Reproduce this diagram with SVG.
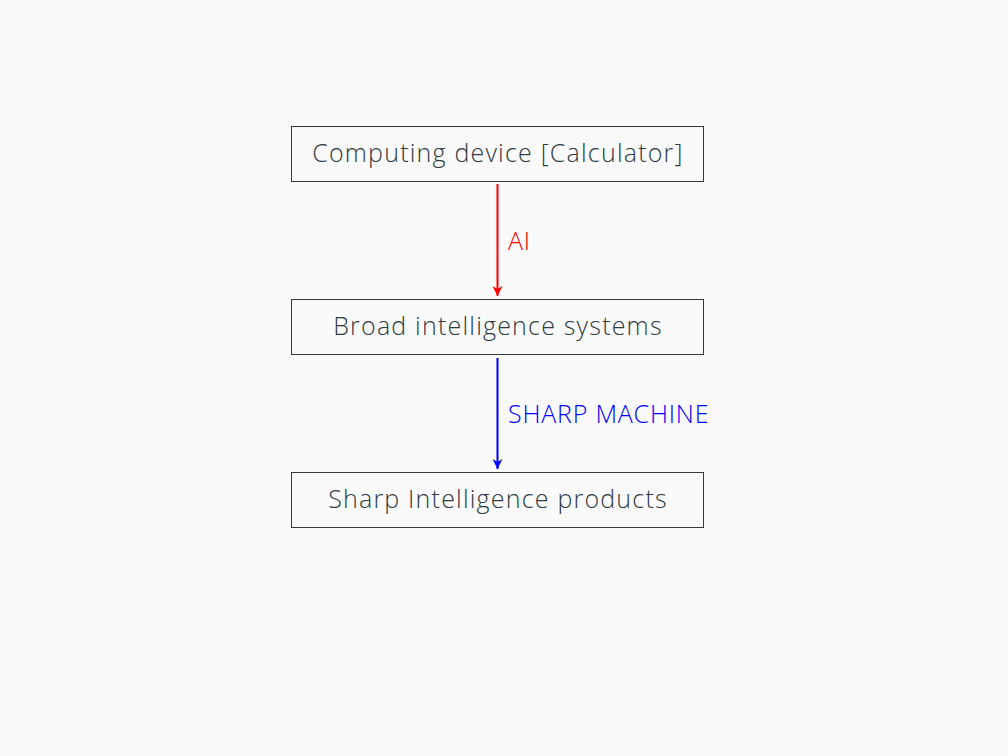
<svg xmlns="http://www.w3.org/2000/svg" width="1008" height="756" viewBox="0 0 1008 756">
<defs>
<style>
.box{fill:none;stroke:#2e3b42;stroke-width:1}
.t{font-family:"Open Sans","Noto Sans",sans-serif;font-weight:300;font-size:25px;letter-spacing:1.2px;fill:#2e3b42;text-anchor:middle}
.lbl{font-family:"Open Sans","Noto Sans",sans-serif;font-weight:300;font-size:25px;letter-spacing:0.8px}
</style>
<marker id="ar" viewBox="0 0 10 10" refX="10" refY="5" markerWidth="10" markerHeight="10" markerUnits="userSpaceOnUse" orient="auto"><path d="M0,0 L10,5 L0,10 L3,5 z" fill="#ff0000"/></marker>
<marker id="ab" viewBox="0 0 10 10" refX="10" refY="5" markerWidth="10" markerHeight="10" markerUnits="userSpaceOnUse" orient="auto"><path d="M0,0 L10,5 L0,10 L3,5 z" fill="#0000ff"/></marker>
</defs>
<rect width="1008" height="756" fill="#fafafa"/>
<g id="n1"><rect class="box" x="291.5" y="126.5" width="412" height="55"/><text class="t" x="498" y="162">Computing device [Calculator]</text></g>
<g id="n2"><rect class="box" x="291.5" y="299.5" width="412" height="55"/><text class="t" x="498" y="335">Broad intelligence systems</text></g>
<g id="n3"><rect class="box" x="291.5" y="472.5" width="412" height="55"/><text class="t" x="498" y="508">Sharp Intelligence products</text></g>
<g id="connectors">
<line x1="497.5" y1="184" x2="497.5" y2="296" stroke="#ff0000" stroke-width="2" marker-end="url(#ar)"/>
<text class="lbl" x="508" y="250" fill="#ff0000">AI</text>
<line x1="497.5" y1="358" x2="497.5" y2="469" stroke="#0000ff" stroke-width="2" marker-end="url(#ab)"/>
<text class="lbl" x="508" y="423" fill="#0000ff">SHARP MACHINE</text>
</g>
</svg>
